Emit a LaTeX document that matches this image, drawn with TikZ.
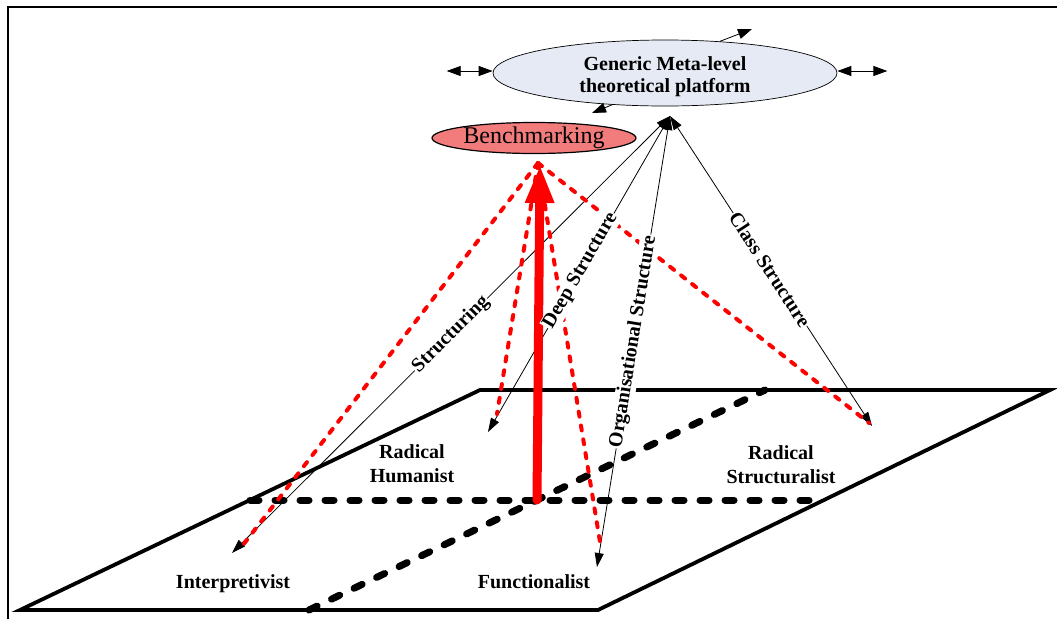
\documentclass[tikz,border=0pt]{standalone}
\usepackage{fontspec}
\setmainfont{Liberation Serif}
\usetikzlibrary{arrows.meta,shapes.geometric,calc}
\definecolor{benchfill}{RGB}{242,124,124}
\definecolor{metafill}{RGB}{230,234,244}
\begin{document}
\begin{tikzpicture}[x=1pt,y=-1pt,
  thinlink/.style={line width=0.8pt,
    {Triangle[length=14pt,width=9pt]}-{Triangle[length=14pt,width=9pt]}},
  sidelink/.style={line width=0.8pt,
    {Triangle[length=14pt,width=10pt]}-{Triangle[length=14pt,width=10pt]}},
  outlink/.style={line width=0.8pt, -{Triangle[length=14pt,width=10pt]}},
  reddash/.style={red, line width=4pt, dash pattern=on 5pt off 9pt, line cap=round},
  plane/.style={line width=3.8pt, line join=miter},
  planedash/.style={line width=7pt, line cap=round, dash pattern=on 9pt off 16pt},
  lbl/.style={font=\bfseries\fontsize{20}{22}\selectfont, fill=white, inner sep=1pt, sloped},
  quadlbl/.style={font=\bfseries\fontsize{20}{24}\selectfont, align=center, anchor=base, inner sep=0pt},
]
\useasboundingbox (0,0) rectangle (1057,619);

% frame
\draw[line width=2.4pt] (8,619) -- (8,7) -- (1057,7);

% the plane of the four paradigms
\coordinate (pA) at (20,610);
\coordinate (pB) at (598,610);
\coordinate (pC) at (1050,390);
\coordinate (pD) at (480,390);
\draw[plane] (pA) -- (pB) -- (pC) -- (pD) -- cycle;

\coordinate (mL) at ($(pA)!0.5!(pD)$);
\coordinate (mR) at ($(pB)!0.5!(pC)$);
\coordinate (mB) at ($(pA)!0.5!(pB)$);
\coordinate (mT) at ($(pD)!0.5!(pC)$);
\coordinate (hub) at (intersection of mL--mR and mB--mT);
\draw[planedash] (mL) -- (mR);
\draw[planedash] (mB) -- (mT);

% quadrant labels (anchored at the baseline of the last line)
\node[quadlbl] (interp) at (233,588) {Interpretivist};
\node[quadlbl] (func) at (534,588) {Functionalist};
\node[quadlbl] (hum) at (412,482) {Radical\\Humanist};
\node[quadlbl] (rstruct) at (781,483) {Radical\\Structuralist};

% platform and benchmarking
\node[draw, ellipse, fill=metafill, line width=0.7pt, minimum width=344pt,
  minimum height=66pt, inner sep=0pt] (meta) at (665,73) {};
\node[align=center, inner sep=0pt, font=\bfseries\fontsize{20}{22}\selectfont]
  (metatext) at (665,77) {Generic Meta-level\\theoretical platform};
\node[draw, ellipse, fill=benchfill, line width=1.2pt, minimum width=204pt,
  minimum height=31pt, inner sep=0pt, font=\fontsize{24}{28}\selectfont]
  (bench) at (534,138) {Benchmarking};

% arrows leaving the platform
\coordinate (wOut) at ($(meta.west)+(-46,-2)$);
\coordinate (wIn) at ($(meta.west)+(0,-2)$);
\coordinate (eIn) at ($(meta.east)+(0,-2)$);
\coordinate (eOut) at ($(meta.east)+(50,-2)$);
\coordinate (nOut) at (752,29);
\coordinate (sOut) at (592,113);
\draw[sidelink] (wOut) -- (wIn);
\draw[sidelink] (eIn) -- (eOut);
\draw[outlink] (meta.30) -- (nOut);
\draw[outlink] (meta.211) -- (sOut);

% structure links
\coordinate (apex) at (670,116);
\coordinate (interpEnd) at (232,553);
\coordinate (humEnd) at (488,432);
\coordinate (funcEnd) at (597,567);
\coordinate (structEnd) at (872,426);
\draw[thinlink] (apex) -- (interpEnd);
\draw[thinlink] (apex) -- (humEnd);
\draw[thinlink] (apex) -- (funcEnd);
\draw[thinlink] (apex) -- (structEnd);

% benchmarking links
\coordinate (benchTip) at (538,163);
\coordinate (interpRed) at (243,545);
\coordinate (humRed) at (497,414);
\coordinate (funcRed) at (601,548);
\coordinate (structRed) at (869,423);
\draw[reddash] (benchTip) -- (interpRed);
\draw[reddash] (benchTip) -- (humRed);
\draw[reddash] (benchTip) -- (funcRed);
\draw[reddash] (benchTip) -- (structRed);

% main benchmarking arrow
\coordinate (redTip) at (540,165);
\draw[red, line width=9pt, line cap=round, -{Triangle[length=38pt,width=27pt]}] (hub) -- (redTip);

% link labels
\path (apex) -- node[lbl, pos=0.5] {Structuring} (interpEnd);
\path (apex) -- node[lbl, pos=0.49] {Deep Structure} (humEnd);
\path (apex) -- node[lbl, pos=0.5] {Organisational Structure} (funcEnd);
\path (apex) -- node[lbl, pos=0.495] {Class Structure} (structEnd);
\end{tikzpicture}
\end{document}
